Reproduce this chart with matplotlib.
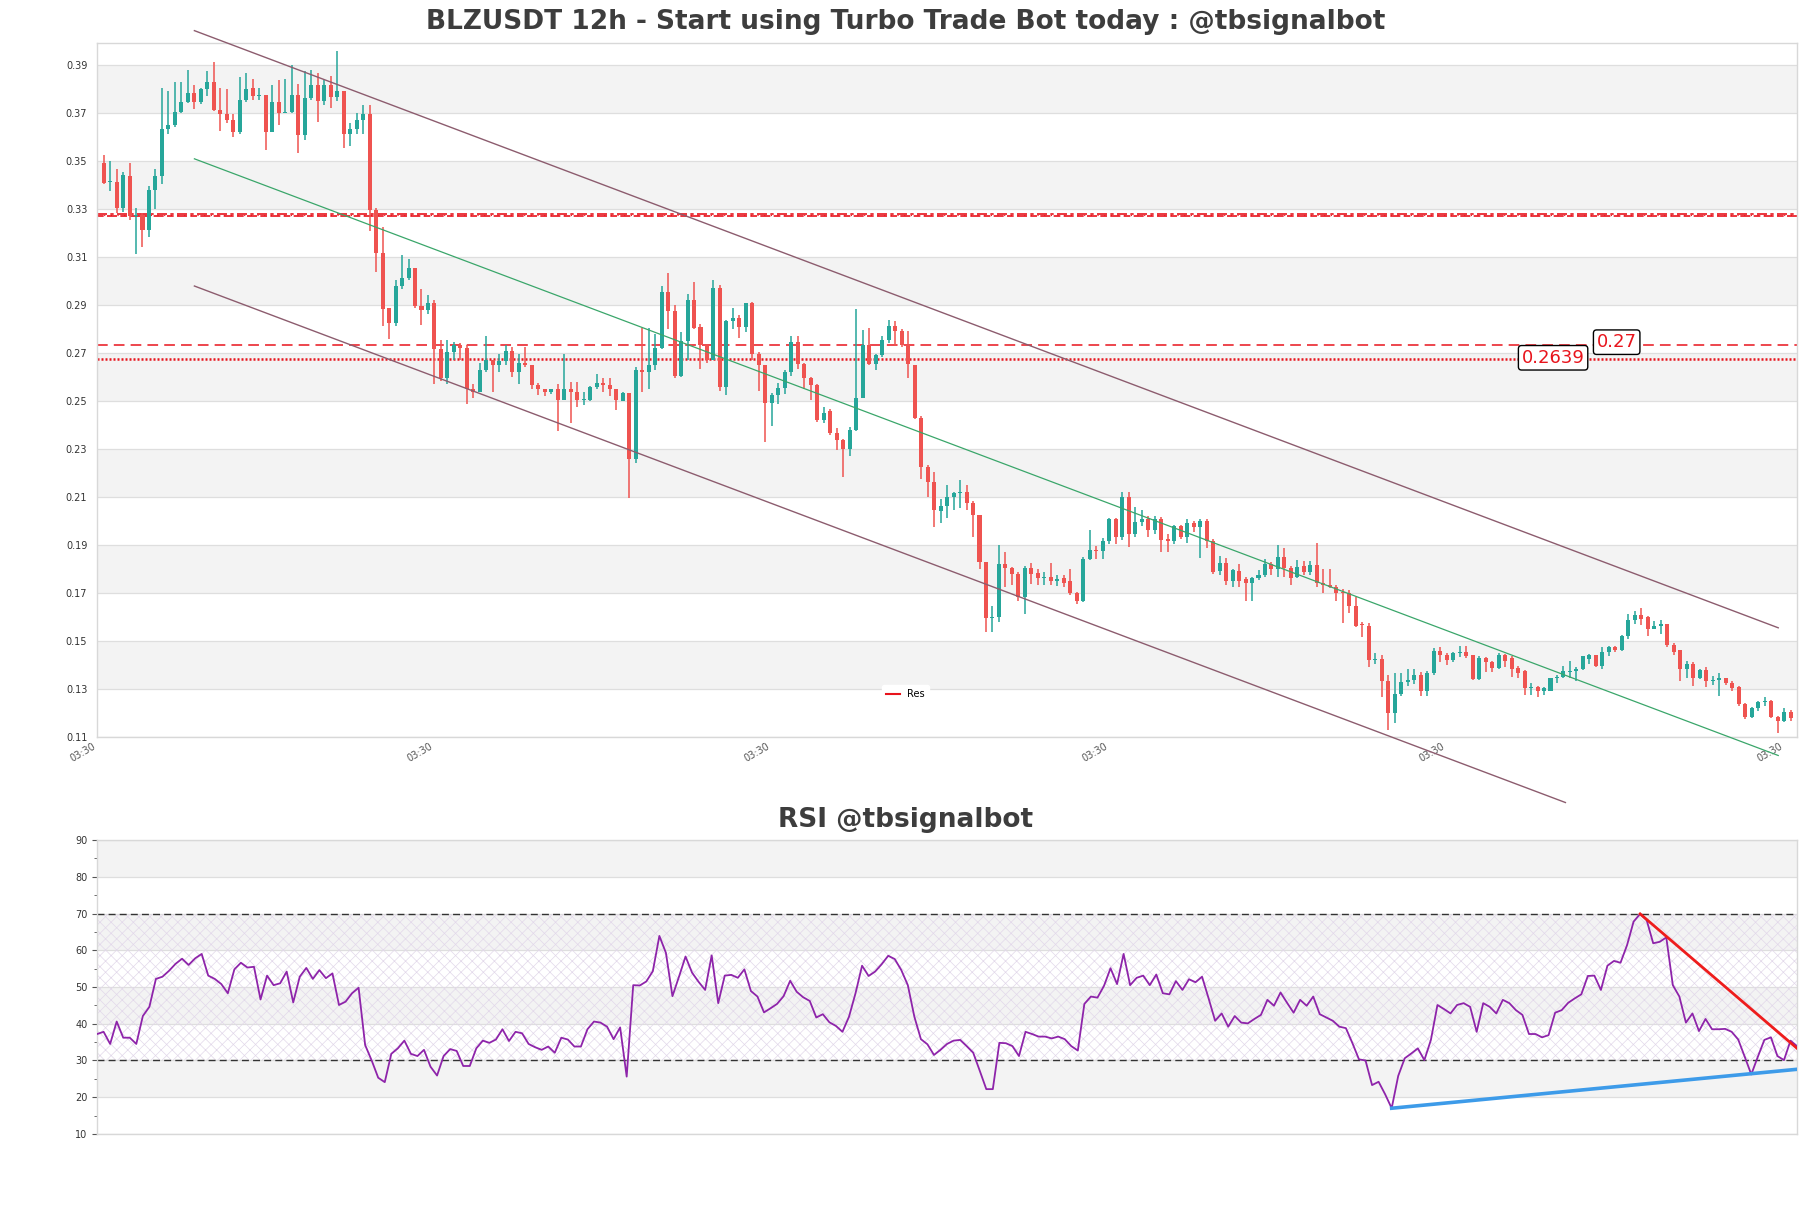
import matplotlib
matplotlib.use('Agg')
import matplotlib.pyplot as plt
from matplotlib.lines import Line2D
from matplotlib.ticker import FixedLocator, MultipleLocator, FormatStrFormatter

# ---------------- data ----------------
opens = [0.3491,0.3413,0.3411,0.3303,0.3435,0.3270,0.3272,0.3212,0.3380,0.3435,
 0.3634,0.3647,0.3705,0.3746,0.3783,0.3746,0.3798,0.3826,0.3712,0.3694,
 0.3671,0.3621,0.3755,0.3805,0.3770,0.3774,0.3621,0.3746,0.3699,0.3703,
 0.3774,0.3606,0.3760,0.3814,0.3749,0.3814,0.3764,0.3792,0.3612,0.3634,
 0.3668,0.3696,0.3296,0.3114,0.2885,0.2822,0.2978,0.3011,0.3052,0.2896,
 0.2876,0.2909,0.2714,0.2593,0.2701,0.2733,0.2720,0.2547,0.2538,0.2630,
 0.2668,0.2649,0.2664,0.2709,0.2621,0.2658,0.2649,0.2566,0.2547,0.2538,
 0.2547,0.2504,0.2551,0.2538,0.2502,0.2504,0.2556,0.2575,0.2566,0.2547,
 0.2500,0.2532,0.2259,0.2630,0.2621,0.2649,0.2718,0.2955,0.2872,0.2603,
 0.2748,0.2919,0.2807,0.2733,0.2671,0.2971,0.2556,0.2831,0.2844,0.2807,
 0.2906,0.2696,0.2649,0.2491,0.2524,0.2552,0.2621,0.2746,0.2653,0.2593,
 0.2566,0.2420,0.2458,0.2367,0.2337,0.2300,0.2380,0.2513,0.2733,0.2653,
 0.2692,0.2751,0.2813,0.2792,0.2733,0.2649,0.2430,0.2222,0.2162,0.2041,
 0.2063,0.2101,0.2114,0.2119,0.2073,0.2026,0.1827,0.1593,0.1597,0.1818,
 0.1803,0.1779,0.1683,0.1803,0.1783,0.1760,0.1766,0.1751,0.1760,0.1747,
 0.1701,0.1664,0.1840,0.1877,0.1872,0.1915,0.2008,0.1933,0.2101,0.1946,
 0.1993,0.2008,0.1961,0.2008,0.1924,0.1915,0.1980,0.1933,0.1989,0.1976,
 0.1998,0.1915,0.1790,0.1822,0.1747,0.1790,0.1756,0.1742,0.1760,0.1772,
 0.1818,0.1799,0.1850,0.1803,0.1766,0.1812,0.1785,0.1816,0.1742,0.1734,
 0.1723,0.1701,0.1701,0.1645,0.1571,0.1561,0.1418,0.1426,0.1333,0.1199,
 0.1277,0.1329,0.1338,0.1357,0.1292,0.1366,0.1459,0.1441,0.1418,0.1450,
 0.1452,0.1441,0.1342,0.1428,0.1413,0.1385,0.1440,0.1430,0.1388,0.1374,
 0.1302,0.1306,0.1291,0.1291,0.1343,0.1347,0.1370,0.1374,0.1384,0.1425,
 0.1440,0.1395,0.1453,0.1473,0.1461,0.1519,0.1585,0.1606,0.1598,0.1550,
 0.1560,0.1571,0.1482,0.1461,0.1384,0.1405,0.1343,0.1378,0.1333,0.1337,
 0.1343,0.1326,0.1306,0.1236,0.1182,0.1219,0.1244,0.1250,0.1184,0.1167,
 0.1204]
highs = [0.3523,0.3500,0.3467,0.3454,0.3489,0.3305,0.3281,0.3396,0.3467,0.3805,
 0.3792,0.3829,0.3829,0.3880,0.3814,0.3801,0.3872,0.3913,0.3801,0.3798,
 0.3694,0.3848,0.3866,0.3839,0.3801,0.3774,0.3814,0.3835,0.3839,0.3898,
 0.3820,0.3872,0.3876,0.3866,0.3835,0.3853,0.3956,0.3792,0.3658,0.3699,
 0.3733,0.3731,0.3303,0.3225,0.2885,0.3002,0.3108,0.3091,0.3052,0.2965,
 0.2941,0.2918,0.2751,0.2751,0.2746,0.2742,0.2733,0.2569,0.2658,0.2770,
 0.2671,0.2696,0.2733,0.2723,0.2696,0.2723,0.2649,0.2575,0.2551,0.2551,
 0.2571,0.2696,0.2579,0.2579,0.2538,0.2560,0.2612,0.2593,0.2593,0.2547,
 0.2538,0.2532,0.2640,0.2803,0.2803,0.2779,0.2979,0.3034,0.2900,0.2788,
 0.2946,0.2993,0.2820,0.2738,0.3002,0.2984,0.2835,0.2885,0.2857,0.2906,
 0.2913,0.2705,0.2649,0.2532,0.2575,0.2627,0.2770,0.2770,0.2658,0.2599,
 0.2571,0.2472,0.2467,0.2385,0.2342,0.2389,0.2881,0.2794,0.2801,0.2696,
 0.2770,0.2835,0.2831,0.2798,0.2792,0.2649,0.2435,0.2231,0.2203,0.2091,
 0.2147,0.2119,0.2169,0.2147,0.2082,0.2026,0.1827,0.1645,0.1900,0.1868,
 0.1807,0.1785,0.1812,0.1822,0.1798,0.1788,0.1825,0.1776,0.1776,0.1798,
 0.1703,0.1850,0.1961,0.1896,0.1928,0.2013,0.2010,0.2119,0.2119,0.2058,
 0.2045,0.2021,0.2021,0.2017,0.1946,0.1983,0.1983,0.2008,0.1998,0.2008,
 0.2008,0.1924,0.1853,0.1844,0.1798,0.1818,0.1766,0.1766,0.1794,0.1840,
 0.1827,0.1900,0.1887,0.1812,0.1835,0.1831,0.1831,0.1909,0.1798,0.1798,
 0.1734,0.1716,0.1710,0.1683,0.1580,0.1575,0.1450,0.1441,0.1357,0.1366,
 0.1366,0.1381,0.1381,0.1370,0.1376,0.1469,0.1474,0.1450,0.1455,0.1478,
 0.1478,0.1441,0.1435,0.1431,0.1416,0.1447,0.1443,0.1436,0.1394,0.1378,
 0.1322,0.1312,0.1306,0.1343,0.1357,0.1395,0.1415,0.1390,0.1438,0.1443,
 0.1440,0.1473,0.1477,0.1477,0.1523,0.1612,0.1622,0.1637,0.1602,0.1581,
 0.1585,0.1571,0.1492,0.1461,0.1415,0.1411,0.1384,0.1391,0.1353,0.1364,
 0.1345,0.1333,0.1312,0.1240,0.1223,0.1250,0.1267,0.1254,0.1188,0.1219,
 0.1213]
lows = [0.3402,0.3374,0.3281,0.3285,0.3253,0.3112,0.3142,0.3183,0.3300,0.3402,
 0.3612,0.3640,0.3699,0.3742,0.3714,0.3736,0.3770,0.3708,0.3625,0.3658,
 0.3597,0.3612,0.3746,0.3755,0.3755,0.3545,0.3621,0.3649,0.3699,0.3699,
 0.3532,0.3588,0.3755,0.3662,0.3731,0.3718,0.3749,0.3554,0.3560,0.3612,
 0.3612,0.3207,0.3036,0.2810,0.2757,0.2813,0.2965,0.3002,0.2887,0.2816,
 0.2863,0.2569,0.2584,0.2571,0.2671,0.2671,0.2486,0.2510,0.2538,0.2621,
 0.2538,0.2621,0.2649,0.2597,0.2569,0.2640,0.2547,0.2523,0.2519,0.2529,
 0.2374,0.2504,0.2407,0.2472,0.2481,0.2500,0.2547,0.2538,0.2519,0.2463,
 0.2497,0.2095,0.2240,0.2538,0.2547,0.2630,0.2714,0.2798,0.2593,0.2597,
 0.2671,0.2798,0.2634,0.2658,0.2668,0.2541,0.2523,0.2798,0.2760,0.2788,
 0.2671,0.2541,0.2327,0.2395,0.2487,0.2528,0.2603,0.2634,0.2547,0.2504,
 0.2411,0.2407,0.2356,0.2296,0.2181,0.2268,0.2374,0.2510,0.2649,0.2627,
 0.2683,0.2742,0.2727,0.2723,0.2593,0.2426,0.2175,0.2101,0.1976,0.1989,
 0.2013,0.2045,0.2054,0.2045,0.1933,0.1798,0.1537,0.1537,0.1580,0.1723,
 0.1734,0.1667,0.1612,0.1738,0.1734,0.1734,0.1734,0.1729,0.1723,0.1692,
 0.1654,0.1660,0.1835,0.1840,0.1840,0.1905,0.1905,0.1920,0.1891,0.1933,
 0.1980,0.1933,0.1943,0.1868,0.1868,0.1905,0.1925,0.1909,0.1952,0.1846,
 0.1887,0.1779,0.1776,0.1734,0.1723,0.1723,0.1667,0.1667,0.1753,0.1766,
 0.1776,0.1766,0.1766,0.1734,0.1760,0.1776,0.1776,0.1723,0.1701,0.1720,
 0.1664,0.1575,0.1617,0.1556,0.1515,0.1389,0.1404,0.1264,0.1128,0.1158,
 0.1270,0.1311,0.1320,0.1270,0.1270,0.1357,0.1413,0.1400,0.1413,0.1431,
 0.1428,0.1335,0.1338,0.1370,0.1370,0.1384,0.1391,0.1349,0.1343,0.1275,
 0.1275,0.1266,0.1275,0.1291,0.1322,0.1343,0.1343,0.1333,0.1378,0.1405,
 0.1391,0.1384,0.1436,0.1453,0.1457,0.1509,0.1571,0.1565,0.1519,0.1550,
 0.1530,0.1474,0.1440,0.1333,0.1343,0.1312,0.1340,0.1308,0.1316,0.1271,
 0.1316,0.1291,0.1230,0.1172,0.1177,0.1209,0.1230,0.1178,0.1115,0.1163,
 0.1167]
closes = [0.3407,0.3417,0.3303,0.3439,0.3268,0.3274,0.3212,0.3380,0.3435,0.3634,
 0.3647,0.3705,0.3746,0.3783,0.3746,0.3798,0.3826,0.3712,0.3694,0.3671,
 0.3621,0.3755,0.3798,0.3770,0.3774,0.3621,0.3746,0.3699,0.3703,0.3774,
 0.3606,0.3760,0.3814,0.3749,0.3814,0.3764,0.3792,0.3612,0.3634,0.3668,
 0.3696,0.3296,0.3114,0.2881,0.2822,0.2978,0.3011,0.3052,0.2896,0.2876,
 0.2909,0.2714,0.2593,0.2701,0.2733,0.2720,0.2547,0.2538,0.2630,0.2668,
 0.2649,0.2664,0.2709,0.2621,0.2658,0.2649,0.2566,0.2547,0.2538,0.2547,
 0.2504,0.2551,0.2538,0.2504,0.2506,0.2556,0.2575,0.2566,0.2547,0.2504,
 0.2532,0.2259,0.2630,0.2621,0.2649,0.2718,0.2955,0.2872,0.2603,0.2748,
 0.2919,0.2803,0.2733,0.2671,0.2971,0.2556,0.2831,0.2844,0.2807,0.2906,
 0.2696,0.2649,0.2491,0.2524,0.2552,0.2621,0.2746,0.2653,0.2593,0.2566,
 0.2420,0.2450,0.2367,0.2337,0.2300,0.2380,0.2513,0.2733,0.2653,0.2692,
 0.2751,0.2813,0.2792,0.2733,0.2653,0.2430,0.2222,0.2162,0.2045,0.2063,
 0.2101,0.2114,0.2119,0.2073,0.2026,0.1827,0.1593,0.1597,0.1818,0.1803,
 0.1779,0.1683,0.1803,0.1779,0.1760,0.1766,0.1747,0.1757,0.1742,0.1701,
 0.1664,0.1840,0.1877,0.1872,0.1915,0.2008,0.1933,0.2101,0.1946,0.1993,
 0.2008,0.1961,0.2008,0.1920,0.1915,0.1980,0.1933,0.1989,0.1976,0.1998,
 0.1915,0.1788,0.1822,0.1747,0.1794,0.1747,0.1742,0.1760,0.1772,0.1818,
 0.1799,0.1850,0.1803,0.1762,0.1807,0.1785,0.1816,0.1742,0.1734,0.1723,
 0.1697,0.1697,0.1645,0.1561,0.1565,0.1418,0.1426,0.1333,0.1199,0.1277,
 0.1329,0.1338,0.1357,0.1292,0.1366,0.1459,0.1441,0.1418,0.1450,0.1452,
 0.1437,0.1342,0.1428,0.1413,0.1385,0.1440,0.1415,0.1384,0.1364,0.1302,
 0.1305,0.1291,0.1302,0.1343,0.1347,0.1374,0.1374,0.1384,0.1436,0.1440,
 0.1395,0.1453,0.1473,0.1461,0.1519,0.1585,0.1606,0.1592,0.1550,0.1560,
 0.1571,0.1482,0.1453,0.1384,0.1405,0.1343,0.1378,0.1333,0.1337,0.1343,
 0.1322,0.1302,0.1236,0.1182,0.1219,0.1244,0.1250,0.1184,0.1167,0.1204,
 0.1178]
rsi = [37.2,37.8,34.5,40.6,36.2,36.2,34.5,42.1,44.6,52.2,
 52.8,54.4,56.3,57.7,56.0,57.8,59.0,53.1,52.2,50.8,
 48.3,54.8,56.6,55.3,55.5,46.6,53.1,50.5,51.0,54.2,
 45.8,52.8,55.2,52.2,54.6,52.4,53.7,45.1,46.0,48.3,
 49.8,34.2,30.0,25.3,24.1,31.8,33.3,35.4,31.8,31.2,
 32.9,28.3,25.9,31.2,33.1,32.6,28.5,28.5,33.3,35.4,
 34.8,35.7,38.5,35.3,37.8,37.4,34.5,33.6,32.9,33.8,
 32.1,36.2,35.7,33.8,33.8,38.5,40.6,40.3,39.2,35.8,
 39.0,25.6,50.5,50.4,51.5,54.3,63.9,59.3,47.5,52.8,
 58.3,53.9,51.4,49.2,58.6,45.6,53.1,53.3,52.5,54.8,
 48.9,47.4,43.1,44.2,45.4,47.5,51.7,48.7,47.2,46.2,
 41.7,42.6,40.4,39.4,37.8,41.9,48.3,55.8,53.0,54.2,
 56.2,58.5,57.6,54.6,50.5,41.9,35.8,34.4,31.5,32.9,
 34.5,35.4,35.6,33.9,32.1,27.2,22.2,22.2,34.8,34.7,
 33.9,31.2,37.8,37.2,36.5,36.5,36.0,36.5,35.8,33.9,
 32.7,45.4,47.4,47.1,50.3,55.1,50.8,59.0,50.5,52.5,
 53.1,50.5,53.4,48.3,48.0,51.6,49.2,52.1,51.3,52.8,
 46.9,40.8,42.8,39.2,42.1,40.3,40.1,41.3,42.4,46.5,
 44.9,48.5,45.7,43.0,46.5,44.9,47.4,42.6,41.7,40.8,
 39.2,38.8,34.7,30.3,30.0,23.3,24.2,20.8,17.0,25.8,
 30.6,31.9,33.3,30.1,35.6,45.1,44.0,42.8,45.1,45.6,
 44.6,37.8,45.6,44.6,42.8,46.5,45.6,43.7,42.4,37.2,
 37.2,36.3,36.9,43.0,43.7,45.7,46.9,48.0,53.0,53.1,
 49.2,55.8,57.1,56.6,61.4,67.8,69.9,68.2,61.9,62.3,
 63.5,50.5,47.4,40.3,42.8,38.0,41.3,38.5,38.5,38.6,
 37.8,35.7,31.0,26.2,31.0,35.6,36.3,31.2,30.1,35.4,
 33.9]

price_ticks = [0.11,0.13,0.15,0.17,0.19,0.21,0.23,0.25,0.27,0.29,0.31,0.33,0.35,0.37,0.39]
rsi_ticks = [10,20,30,40,50,60,70,80,90]
x_tick_pos = [-1, 51, 103, 155, 207, 259]
x_tick_labels = ['03:30'] * 6

res_level = 0.3275
level_a = 0.2732      # labelled "0.27"
level_b = 0.2673      # labelled "0.2639"
label_a = '0.27'
label_b = '0.2639'

# channel lines (x index, price)
upper_ch = ([14.0, 258.1], [0.4042, 0.1554])
mid_ch = ([14.0, 258.1], [0.3508, 0.1022])
lower_ch = ([14.0, 225.3], [0.2978, 0.0826])

# rsi trend lines
rsi_red = ([236, 260], [69.9, 33.3])
rsi_blue = ([198, 260], [17.0, 27.6])

title_main = 'BLZUSDT 12h - Start using Turbo Trade Bot today : @tbsignalbot'
title_rsi = 'RSI @tbsignalbot'

UP = '#26a69a'
DOWN = '#ef5350'
BAND = '#f3f3f3'
GRID = '#dedede'
SPINE = '#d8d8d8'
RED = '#e8141c'

fig = plt.figure(figsize=(18.11, 12.08), dpi=100)
fig.patch.set_facecolor('white')

ax = fig.add_axes([0.0536, 0.3899, 0.9387, 0.5748])
ax2 = fig.add_axes([0.0536, 0.0613, 0.9387, 0.2433])

# ---------- main chart ----------
ymin, ymax = 0.1099, 0.3992
ax.set_xlim(-1, 261)
ax.set_ylim(ymin, ymax)
for k in range(len(price_ticks) - 1):
    if k % 2 == 1:
        ax.axhspan(price_ticks[k], price_ticks[k + 1], color=BAND, lw=0, zorder=0)
for t in price_ticks:
    ax.axhline(t, color=GRID, lw=0.9, zorder=0.5)

n = len(closes)
for i in range(n):
    o, h, l, c = opens[i], highs[i], lows[i], closes[i]
    col = UP if c >= o else DOWN
    ax.vlines(i, l, h, color=col, lw=1.1, zorder=3)
    body = max(abs(c - o), 0.00045)
    ax.bar(i, body, bottom=min(o, c), width=0.62, color=col, lw=0, zorder=3)

# horizontal levels
ax.axhline(res_level + 0.0005, color=RED, lw=1.2, ls=(0, (6, 2, 2, 2)), zorder=2)
ax.axhline(res_level - 0.0005, color=RED, lw=1.2, ls=(0, (4, 2, 6, 2)), zorder=2)
ax.axhline(res_level, color=RED, lw=0.8, ls=(0, (1, 5)), zorder=2)
ax.axhline(level_a, color=RED, lw=1.1, ls=(0, (7, 4)), zorder=2)
ax.axhline(level_b, color=RED, lw=1.8, ls=(0, (0.8, 0.8)), zorder=2)

box = dict(boxstyle='round,pad=0.18', fc='white', ec='black', lw=1)
ax.text(233.2, level_a + 0.0012, label_a, color=RED, fontsize=13,
        ha='center', va='center', bbox=box, zorder=6)
ax.text(223.4, level_b + 0.0006, label_b, color=RED, fontsize=13,
        ha='center', va='center', bbox=box, zorder=6)

ch_col = '#8c5c6e'
ax.plot(*upper_ch, color=ch_col, lw=1.0, clip_on=False, zorder=4)
ax.plot(*lower_ch, color=ch_col, lw=1.0, clip_on=False, zorder=4)
ax.plot(*mid_ch, color='#3aa66a', lw=0.9, clip_on=False, zorder=4)

ax.yaxis.set_major_locator(FixedLocator(price_ticks))
ax.yaxis.set_major_formatter(FormatStrFormatter('%.2f'))
ax.set_xticks(x_tick_pos)
ax.set_xticklabels(x_tick_labels, rotation=30, ha='right', fontsize=7, color='#555555')
ax.tick_params(axis='y', labelsize=7, labelcolor='#333333', length=0, pad=7)
ax.tick_params(axis='x', length=0, pad=3)
for s in ax.spines.values():
    s.set_color(SPINE)
    s.set_linewidth(1)

fig.legend([Line2D([0], [0], color=RED, lw=1.5)], ['Res'], loc='center',
           bbox_to_anchor=(0.5, 0.4255), fontsize=7, frameon=True,
           edgecolor='white', framealpha=1, handlelength=1.4)

fig.text(0.5, 0.9818, title_main, ha='center', va='center', fontsize=19,
         fontweight='bold', color='#3d3d3d')

# ---------- RSI ----------
ax2.set_xlim(0, 260)
ax2.set_ylim(10, 90)
for k in range(len(rsi_ticks) - 1):
    if k % 2 == 1:
        ax2.axhspan(rsi_ticks[k], rsi_ticks[k + 1], color=BAND, lw=0, zorder=0)
for t in rsi_ticks:
    ax2.axhline(t, color=GRID, lw=0.9, zorder=0.5)
plt.rcParams['hatch.linewidth'] = 0.5
ax2.axhspan(30, 70, facecolor='none', edgecolor='#e2d8ea', hatch='xxx', lw=0, zorder=0.6)
ax2.axhline(30, color='#333333', lw=1.0, ls=(0, (5, 3)), zorder=2)
ax2.axhline(70, color='#333333', lw=1.0, ls=(0, (5, 3)), zorder=2)
ax2.plot(range(len(rsi)), rsi, color='#8e24aa', lw=1.3, zorder=3)
ax2.plot(*rsi_red, color='#ee1c1c', lw=2.0, zorder=4)
ax2.plot(*rsi_blue, color='#3d9be9', lw=2.6, zorder=4)

ax2.yaxis.set_major_locator(FixedLocator(rsi_ticks))
ax2.yaxis.set_minor_locator(MultipleLocator(5))
ax2.set_xticks([])
ax2.tick_params(axis='y', which='major', labelsize=7, labelcolor='#333333', color='#555555', length=3.5)
ax2.tick_params(axis='y', which='minor', color='#555555', length=2.5)
for s in ax2.spines.values():
    s.set_color(SPINE)
    s.set_linewidth(1)

fig.text(0.5, 0.3212, title_rsi, ha='center', va='center', fontsize=19,
         fontweight='bold', color='#3d3d3d')

fig.savefig('out.png', dpi=100, facecolor='white')
